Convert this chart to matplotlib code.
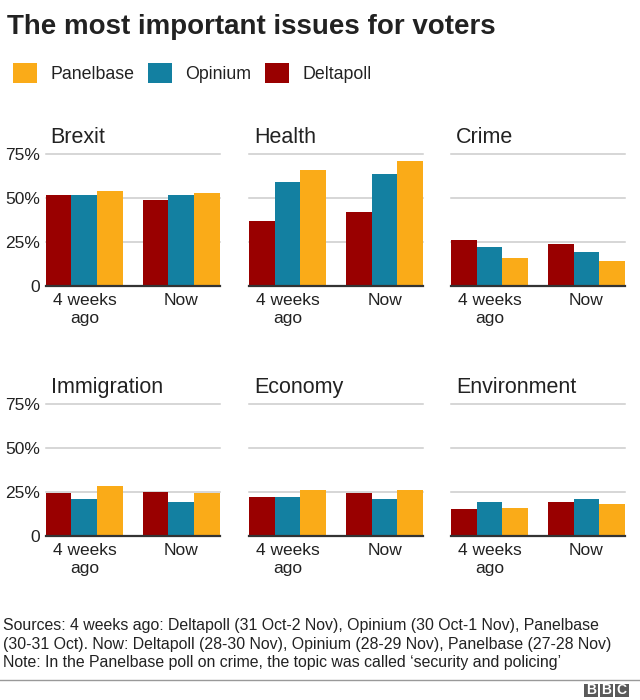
import matplotlib
matplotlib.use("Agg")
import matplotlib.pyplot as plt
from matplotlib.patches import Patch, Rectangle
from matplotlib.lines import Line2D

plt.rcParams["font.family"] = ["Liberation Sans", "DejaVu Sans"]

issues = ["Brexit", "Health", "Crime", "Immigration", "Economy", "Environment"]
periods = ["4 weeks\nago", "Now"]
pollsters = ["Deltapoll", "Opinium", "Panelbase"]
deltapoll = [[52, 49], [37, 42], [26, 24], [24, 25], [22, 24], [15, 19]]
opinium = [[52, 52], [59, 64], [22, 19], [21, 19], [22, 21], [19, 21]]
panelbase = [[54, 53], [66, 71], [16, 14], [28, 24], [26, 26], [16, 18]]
yticks = [0, 25, 50, 75]
ytick_labels = ["0", "25%", "50%", "75%"]

colors = {"Panelbase": "#FAAB18", "Opinium": "#1380A1", "Deltapoll": "#990000"}
W, H = 640, 700
fig = plt.figure(figsize=(6.4, 7), dpi=100)

# axes layout in pixels
lefts = [45.7, 248.9, 450.8]
ax_w = 174.3
rows = [(154.3, 285.7), (403.7, 535.7)]
bw = 0.266
series = {"Deltapoll": deltapoll, "Opinium": opinium, "Panelbase": panelbase}

for i, issue in enumerate(issues):
    r, c = divmod(i, 3)
    top, bot = rows[r]
    ax = fig.add_axes([lefts[c] / W, 1 - bot / H, ax_w / W, (bot - top) / H])
    x = [0, 1]
    for k, p in enumerate(pollsters):
        ax.bar([xi + (k - 1) * bw for xi in x], series[p][i], width=bw,
               color=colors[p], linewidth=0, zorder=3)
    ax.set_xlim(-1.5 * bw, 1 + 1.5 * bw)
    ax.set_ylim(0, 75)
    for y in yticks[1:]:
        ax.axhline(y, color="#cbcbcb", lw=1.1, zorder=1, clip_on=False)
    ax.axhline(0, color="#333333", lw=1.6, zorder=4, clip_on=False)
    for s in ax.spines.values():
        s.set_visible(False)
    ax.set_xticks(x)
    ax.set_xticklabels(periods, fontsize=12.5, color="#222222", linespacing=1.25)
    ax.set_yticks(yticks)
    if c == 0:
        ax.set_yticklabels(ytick_labels, fontsize=12.5, color="#222222")
    else:
        ax.set_yticklabels([])
    ax.tick_params(length=0, pad=4)
    ax.tick_params(axis="x", pad=5)
    fig.text((lefts[c] + 5) / W, 1 - (top - 11) / H, issue, fontsize=15.5,
             color="#222222", va="baseline", ha="left")

fig.text(7.3 / W, 1 - 34.3 / H, "The most important issues for voters",
         fontsize=20, weight="bold", color="#222222", va="baseline")

order = ["Panelbase", "Opinium", "Deltapoll"]
handles = [Patch(facecolor=colors[p], edgecolor="none") for p in order]
fig.legend(handles, order, loc="upper left", bbox_to_anchor=(12.7 / W, 1 - 63.3 / H),
           ncol=3, frameon=False, fontsize=12.8, handlelength=1.35, handleheight=1.35,
           handletextpad=0.75, columnspacing=0.77, borderpad=0, borderaxespad=0,
           labelcolor="#222222")

notes = [
    "Sources: 4 weeks ago: Deltapoll (31 Oct-2 Nov), Opinium (30 Oct-1 Nov), Panelbase",
    "(30-31 Oct). Now: Deltapoll (28-30 Nov), Opinium (28-29 Nov), Panelbase (27-28 Nov)",
    "Note: In the Panelbase poll on crime, the topic was called \u2018security and policing\u2019",
]
for j, line in enumerate(notes):
    fig.text(3 / W, 1 - (630 + 18.5 * j) / H, line, fontsize=11.4,
             color="#222222", va="baseline")

fig.add_artist(Line2D([0, 1], [1 - 680 / H] * 2, color="#999999", lw=1))

for j, letter in enumerate("BBC"):
    x0 = 584 + j * 15.5
    fig.add_artist(Rectangle((x0 / W, 1 - 697 / H), 13.5 / W, 13.5 / H,
                             facecolor="#5a5a5a", edgecolor="none"))
    fig.text((x0 + 6.75) / W, 1 - 690.2 / H, letter, fontsize=10, weight="bold",
             color="white", ha="center", va="center")

fig.savefig("out.png", dpi=100, facecolor="white")
